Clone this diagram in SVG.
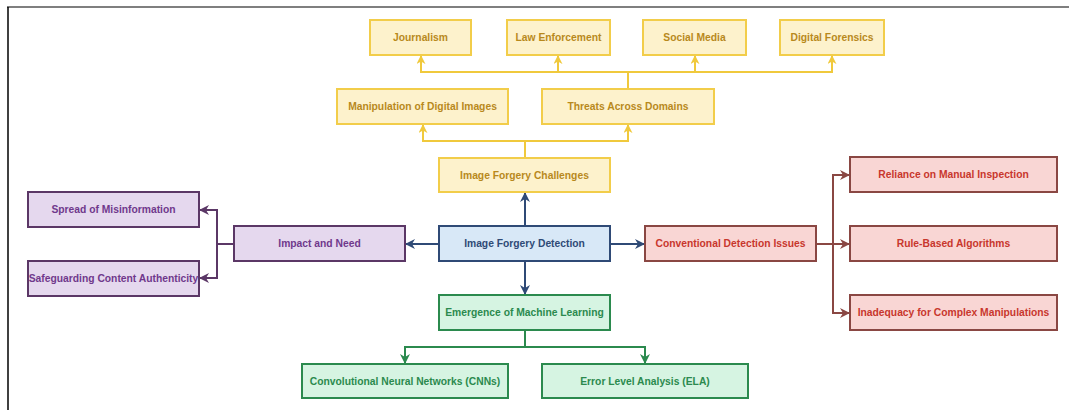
<svg xmlns="http://www.w3.org/2000/svg" width="1069" height="410" viewBox="0 0 1069 410">
<defs>
<marker id="ay" viewBox="0 0 10 10" refX="9" refY="5" markerWidth="9" markerHeight="9" orient="auto" markerUnits="userSpaceOnUse"><path d="M0,0 L10,5 L0,10 L3,5 Z" fill="#f0c93c"/></marker>
<marker id="ab" viewBox="0 0 10 10" refX="9" refY="5" markerWidth="10" markerHeight="10" orient="auto" markerUnits="userSpaceOnUse"><path d="M0,0 L10,5 L0,10 L3,5 Z" fill="#2f4a76"/></marker>
<marker id="ap" viewBox="0 0 10 10" refX="9" refY="5" markerWidth="10" markerHeight="10" orient="auto" markerUnits="userSpaceOnUse"><path d="M0,0 L10,5 L0,10 L3,5 Z" fill="#5b3766"/></marker>
<marker id="ar" viewBox="0 0 10 10" refX="9" refY="5" markerWidth="10" markerHeight="10" orient="auto" markerUnits="userSpaceOnUse"><path d="M0,0 L10,5 L0,10 L3,5 Z" fill="#8a4743"/></marker>
<marker id="ag" viewBox="0 0 10 10" refX="9" refY="5" markerWidth="10" markerHeight="10" orient="auto" markerUnits="userSpaceOnUse"><path d="M0,0 L10,5 L0,10 L3,5 Z" fill="#2b8a4e"/></marker>
</defs>
<style>
text{font-family:"Liberation Sans",Arial,sans-serif;font-size:10.3px;font-weight:bold;text-anchor:middle;dominant-baseline:central}
.y rect{fill:#fdf2cc;stroke:#f2cd4a;stroke-width:2}
.y text{fill:#b8891c}
.b rect{fill:#d8e8f7;stroke:#2f4a76;stroke-width:2}
.b text{fill:#2f4a76}
.p rect{fill:#e5d8ee;stroke:#5b3766;stroke-width:2}
.p text{fill:#70388c}
.r rect{fill:#f9d6d4;stroke:#8a4743;stroke-width:2}
.r text{fill:#c8372d}
.g rect{fill:#d6f4e2;stroke:#2b8a4e;stroke-width:2}
.g text{fill:#2b8a4e}
.cy{fill:none;stroke:#f0c93c;stroke-width:2;marker-end:url(#ay)}
.cb{fill:none;stroke:#2f4a76;stroke-width:2;marker-end:url(#ab)}
.cp{fill:none;stroke:#5b3766;stroke-width:2;marker-end:url(#ap)}
.cr{fill:none;stroke:#8a4743;stroke-width:2;marker-end:url(#ar)}
.cg{fill:none;stroke:#2b8a4e;stroke-width:2;marker-end:url(#ag)}
</style>
<rect width="1069" height="410" fill="#ffffff"/>
<line x1="7" y1="7" x2="1069" y2="7" stroke="#555" stroke-width="1.5"/>
<line x1="8" y1="7" x2="8" y2="410" stroke="#000" stroke-width="1.5"/>
<g id="connectors">
<path class="cy" d="M628,89 V72 H421 V56"/>
<path class="cy" d="M628,72 H558 V56"/>
<path class="cy" d="M628,72 H695 V56"/>
<path class="cy" d="M628,72 H832 V56"/>
<path class="cy" d="M525,158 V141 H423 V125"/>
<path class="cy" d="M525,141 H628 V125"/>
<path class="cb" d="M525,226 V193"/>
<path class="cb" d="M439,244 H406"/>
<path class="cb" d="M610,244 H644"/>
<path class="cb" d="M525,261 V294"/>
<path class="cp" d="M234,244 H217 V210 H200"/>
<path class="cp" d="M217,244 V278 H200"/>
<path class="cr" d="M816,244 H833 V175 H849"/>
<path class="cr" d="M833,244 H849"/>
<path class="cr" d="M833,244 V313 H849"/>
<path class="cg" d="M525,330 V347 H405 V363"/>
<path class="cg" d="M525,347 H645 V363"/>
</g>
<g id="journalism" class="y"><rect x="370" y="20" width="101" height="35"/><text x="420.5" y="37.5">Journalism</text></g>
<g id="law" class="y"><rect x="507" y="20" width="103" height="35"/><text x="558.5" y="37.5">Law Enforcement</text></g>
<g id="social" class="y"><rect x="643" y="20" width="103" height="35"/><text x="694.5" y="37.5">Social Media</text></g>
<g id="forensics" class="y"><rect x="780" y="20" width="104" height="35"/><text x="832" y="37.5">Digital Forensics</text></g>
<g id="manipulation" class="y"><rect x="337" y="89" width="171" height="35"/><text x="422.5" y="106.5">Manipulation of Digital Images</text></g>
<g id="threats" class="y"><rect x="542" y="89" width="172" height="35"/><text x="628" y="106.5">Threats Across Domains</text></g>
<g id="challenges" class="y"><rect x="439" y="158" width="171" height="34"/><text x="524.5" y="175">Image Forgery Challenges</text></g>
<g id="detection" class="b"><rect x="439" y="226" width="171" height="35"/><text x="524.5" y="243.5">Image Forgery Detection</text></g>
<g id="impact" class="p"><rect x="234" y="226" width="171" height="35"/><text x="319.5" y="243.5">Impact and Need</text></g>
<g id="spread" class="p"><rect x="28" y="192" width="171" height="35"/><text x="113.5" y="209.5">Spread of Misinformation</text></g>
<g id="safeguarding" class="p"><rect x="28" y="261" width="171" height="35"/><text x="113.5" y="278.5">Safeguarding Content Authenticity</text></g>
<g id="conventional" class="r"><rect x="645" y="226" width="171" height="35"/><text x="730.5" y="243.5">Conventional Detection Issues</text></g>
<g id="reliance" class="r"><rect x="850" y="157" width="207" height="35"/><text x="953.5" y="174.5">Reliance on Manual Inspection</text></g>
<g id="rule" class="r"><rect x="850" y="226" width="207" height="35"/><text x="953.5" y="243.5">Rule-Based Algorithms</text></g>
<g id="inadequacy" class="r"><rect x="850" y="295" width="207" height="35"/><text x="953.5" y="312.5">Inadequacy for Complex Manipulations</text></g>
<g id="emergence" class="g"><rect x="439" y="295" width="171" height="35"/><text x="524.5" y="312.5">Emergence of Machine Learning</text></g>
<g id="cnn" class="g"><rect x="302" y="364" width="206" height="34"/><text x="405" y="381">Convolutional Neural Networks (CNNs)</text></g>
<g id="ela" class="g"><rect x="542" y="364" width="206" height="34"/><text x="645" y="381">Error Level Analysis (ELA)</text></g>
</svg>
